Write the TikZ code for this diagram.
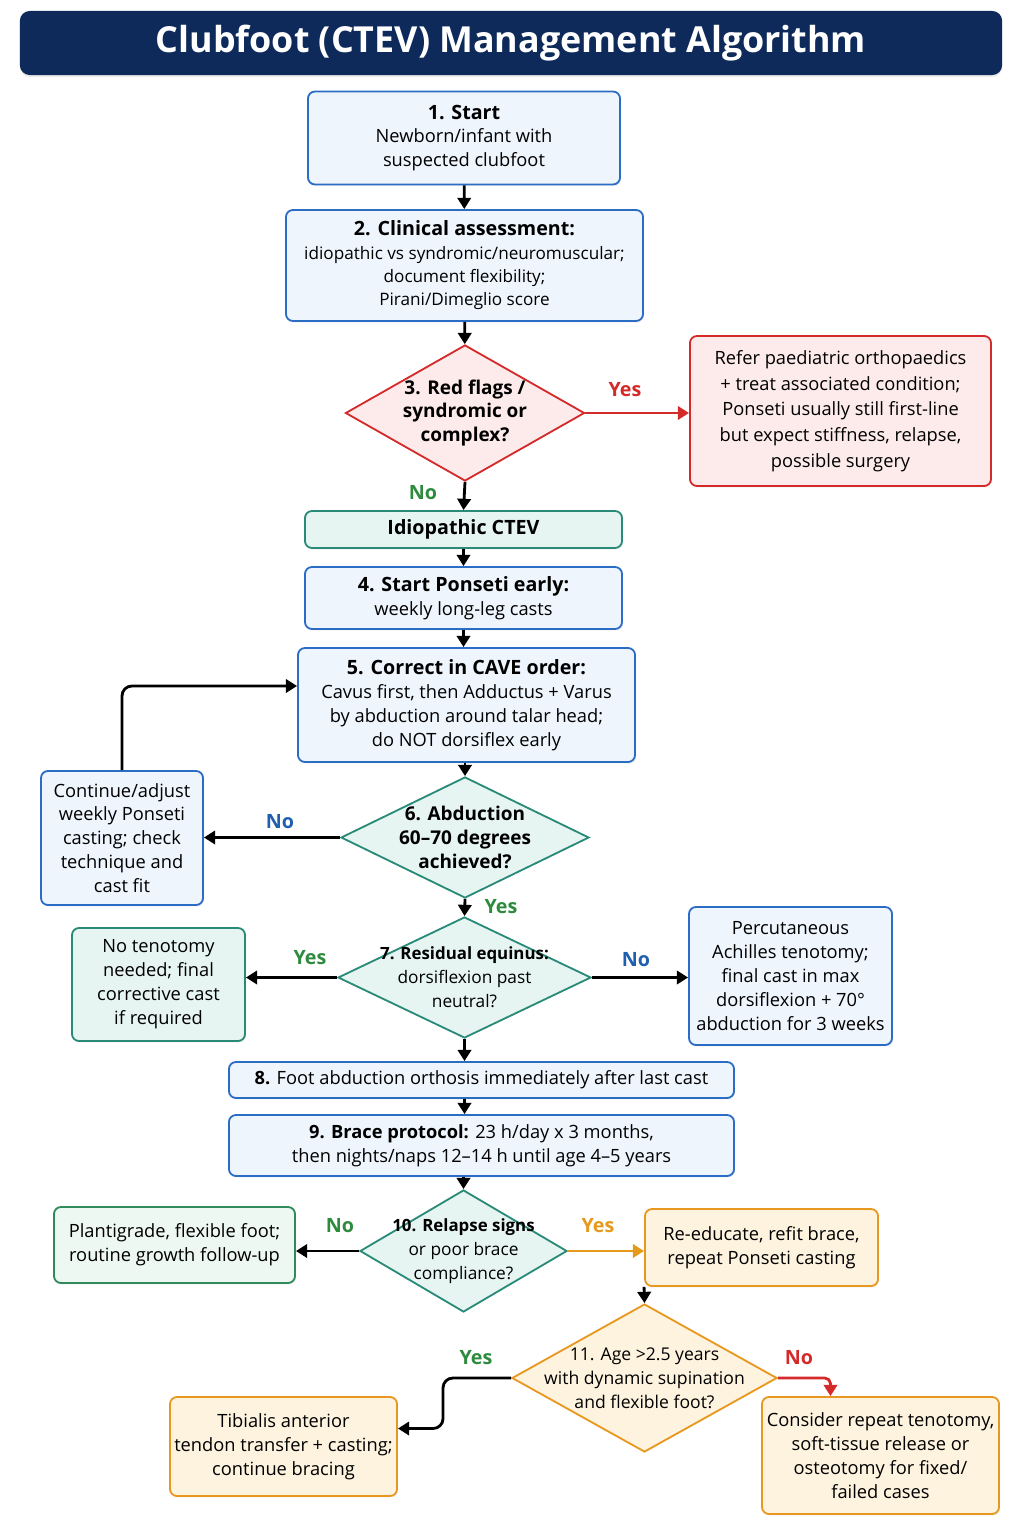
\documentclass[tikz,border=0pt]{standalone}
\usepackage{fontspec}
\setmainfont{Open Sans}
\usetikzlibrary{arrows.meta,shapes.geometric,shadows}

\definecolor{navy}{HTML}{0E2A5A}
\definecolor{blueline}{HTML}{2B6CC4}
\definecolor{bluefill}{HTML}{EEF5FD}
\definecolor{redline}{HTML}{D42A2A}
\definecolor{redfill}{HTML}{FDEBEC}
\definecolor{tealline}{HTML}{2A8A78}
\definecolor{tealfill}{HTML}{E6F5F2}
\definecolor{greenline}{HTML}{2F8A5C}
\definecolor{greenfill}{HTML}{EEF8F3}
\definecolor{orangeline}{HTML}{E8981E}
\definecolor{orangefill}{HTML}{FEF3DF}
\definecolor{yesgreen}{HTML}{2E8B3E}
\definecolor{noblue}{HTML}{1F5FAE}
\definecolor{yesorange}{HTML}{E59A1C}

\newcommand{\hd}[1]{{\fontsize{14}{17}\selectfont\bfseries #1}}

\tikzset{
  box/.style={draw, rounded corners=5pt, line width=1.3pt, align=center, inner sep=2pt,
    drop shadow={opacity=0.10, shadow xshift=0.8pt, shadow yshift=-1.2pt}},
  bluebox/.style={box, draw=blueline, fill=bluefill},
  redbox/.style={box, draw=redline, fill=redfill},
  tealbox/.style={box, draw=tealline, fill=tealfill},
  greenbox/.style={box, draw=greenline, fill=greenfill},
  orangebox/.style={box, draw=orangeline, fill=orangefill},
  dia/.style={diamond, draw, line width=1.3pt, inner sep=0pt},
  diatext/.style={align=center},
  arr/.style={line width=2pt, -{Triangle[length=8pt,width=9.5pt]}},
  lbl/.style={font=\fontsize{14}{16}\selectfont\bfseries},
}

\begin{document}
\begin{tikzpicture}[x=0.025cm, y=-0.025cm, font=\fontsize{13}{17}\selectfont]
  \useasboundingbox (0,0) rectangle (1024,1536);

  % Title bar
  \node[fill=navy, rounded corners=7pt, minimum width=24.55cm, minimum height=1.6cm,
    text=white, font=\fontsize{25.5}{28}\selectfont\bfseries,
    drop shadow={opacity=0.15, shadow xshift=0pt, shadow yshift=-1.5pt}] (title) at (511,43)
    {Clubfoot (CTEV) Management Algorithm};

  % Main column
  \node[bluebox, minimum width=7.8cm, minimum height=2.325cm] (start) at (464,138)
    {\hd{1. Start}\\ Newborn/infant with\\ suspected clubfoot};
  \node[bluebox, minimum width=8.925cm, minimum height=2.775cm, font=\fontsize{12.2}{16.6}\selectfont] (assess) at (464.5,265.5)
    {\hd{2. Clinical assessment:}\\ idiopathic vs syndromic/neuromuscular;\\ document flexibility;\\ Pirani/Dimeglio score};

  \node[dia, draw=redline, fill=redfill, minimum width=5.975cm, minimum height=3.4cm] (flags) at (465,413) {};
  \node[diatext, font=\fontsize{13.5}{17}\selectfont\bfseries] (flagst) at (flags)
    {3. Red flags /\\ syndromic or\\ complex?};
  \node[redbox, minimum width=7.525cm, minimum height=3.75cm, font=\fontsize{13}{18.3}\selectfont] (refer) at (840.5,411)
    {Refer paediatric orthopaedics\\ + treat associated condition;\\ Ponseti usually still first-line\\ but expect stiffness, relapse,\\ possible surgery};

  \node[tealbox, minimum width=7.925cm, minimum height=0.925cm] (idio) at (463.5,529.5)
    {\hd{Idiopathic CTEV}};
  \node[bluebox, minimum width=7.925cm, minimum height=1.55cm] (ponseti) at (463.5,598)
    {\hd{4. Start Ponseti early:}\\ weekly long-leg casts};
  \node[bluebox, minimum width=8.425cm, minimum height=2.85cm] (cave) at (466.5,705)
    {\hd{5. Correct in CAVE order:}\\ Cavus first, then Adductus + Varus\\ by abduction around talar head;\\ do NOT dorsiflex early};

  \node[dia, draw=tealline, fill=tealfill, minimum width=6.2cm, minimum height=3.025cm] (abd) at (465,837.5) {};
  \node[diatext, font=\fontsize{13.5}{17}\selectfont\bfseries] (abdt) at (abd)
    {6. Abduction\\ 60--70 degrees\\ achieved?};
  \node[bluebox, minimum width=4.05cm, minimum height=3.35cm] (adjust) at (122,838)
    {Continue/adjust\\ weekly Ponseti\\ casting; check\\ technique and\\ cast fit};

  \node[dia, draw=tealline, fill=tealfill, minimum width=6.325cm, minimum height=3.025cm] (equinus) at (464.5,977.5) {};
  \node[diatext, font=\fontsize{12.3}{17}\selectfont] (equinust) at (equinus)
    {{\fontsize{12}{17}\selectfont\bfseries 7. Residual equinus:}\\ dorsiflexion past\\ neutral?};
  \node[tealbox, minimum width=4.325cm, minimum height=2.825cm] (notenot) at (158.5,984.5)
    {No tenotomy\\ needed; final\\ corrective cast\\ if required};
  \node[bluebox, minimum width=5.075cm, minimum height=3.45cm] (tenot) at (790.5,976)
    {Percutaneous\\ Achilles tenotomy;\\ final cast in max\\ dorsiflexion + 70°\\ abduction for 3 weeks};

  \node[bluebox, minimum width=12.625cm, minimum height=0.9cm] (orthosis) at (481.5,1080)
    {{\bfseries 8.} Foot abduction orthosis immediately after last cast};
  \node[bluebox, minimum width=12.625cm, minimum height=1.525cm] (brace) at (481.5,1145.5)
    {{\bfseries 9. Brace protocol:} 23 h/day x 3 months,\\ then nights/naps 12--14 h until age 4--5 years};

  \node[dia, draw=tealline, fill=tealfill, minimum width=5.175cm, minimum height=3.05cm] (relapse) at (463.5,1251) {};
  \node[diatext, font=\fontsize{12.3}{17}\selectfont] (relapset) at (relapse)
    {{\fontsize{12}{17}\selectfont\bfseries 10. Relapse signs}\\ or poor brace\\ compliance?};
  \node[greenbox, minimum width=6.025cm, minimum height=1.9cm] (plant) at (174.5,1245)
    {Plantigrade, flexible foot;\\ routine growth follow-up};
  \node[orangebox, minimum width=5.825cm, minimum height=1.925cm] (reedu) at (761.5,1247.5)
    {Re-educate, refit brace,\\ repeat Ponseti casting};

  \node[dia, draw=orangeline, fill=orangefill, minimum width=6.625cm, minimum height=3.7cm] (age) at (644.5,1378) {};
  \node[diatext, font=\fontsize{12.5}{17}\selectfont] (aget) at (age)
    {11. Age >2.5 years\\ with dynamic supination\\ and flexible foot?};
  \node[orangebox, minimum width=5.675cm, minimum height=2.475cm] (tibialis) at (283.5,1446.5)
    {Tibialis anterior\\ tendon transfer + casting;\\ continue bracing};
  \node[orangebox, minimum width=5.925cm, minimum height=2.925cm] (surgery) at (880.5,1455.5)
    {Consider repeat tenotomy,\\ soft-tissue release or\\ osteotomy for fixed/\\ failed cases};

  % Bend points
  \coordinate (ageyes) at (443,1378);

  % Connectors
  \draw[arr] (start) -- (assess);
  \draw[arr] (assess) -- (flags);
  \draw[arr, draw=redline] (flags.east) -- (refer.west |- flags.east);
  \draw[arr] (flags.south) -- (idio.north);
  \draw[arr] (idio) -- (ponseti);
  \draw[arr] (ponseti.south) -- (ponseti.south |- cave.north);
  \draw[arr] (cave.south -| abd.north) -- (abd.north);
  \draw[arr] (abd.west) -- (adjust.east |- abd.west);
  \draw[arr, rounded corners=7pt] (adjust.north) |- ([yshift=0.475cm]cave.west);
  \draw[arr] (abd.south) -- (equinus.north);
  \draw[arr] (equinus.west) -- (notenot.east |- equinus.west);
  \draw[arr] (equinus.east) -- (tenot.west |- equinus.east);
  \draw[arr] (equinus.south) -- (equinus.south |- orthosis.north);
  \draw[arr] (orthosis.south -| equinus.south) -- (brace.north -| equinus.south);
  \draw[arr] (brace.south -| relapse.north) -- (relapse.north);
  \draw[arr] (relapse.west) -- (plant.east |- relapse.west);
  \draw[arr, draw=yesorange] (relapse.east) -- (reedu.west |- relapse.east);
  \draw[arr] (reedu.south west) -- (age.north);
  \draw[arr, rounded corners=7pt] (age.west) -- (ageyes) |- ([yshift=0.45cm]tibialis.east);
  \draw[arr, draw=redline, rounded corners=4pt] (age.east) -| ([xshift=-1.25cm]surgery.north);

  % Yes / No labels
  \node[lbl, text=redline] (flagsyes) at (625,390) {Yes};
  \node[lbl, text=yesgreen] (flagsno) at (423,493) {No};
  \node[lbl, text=noblue] (abdno) at (280,822) {No};
  \node[lbl, text=yesgreen] (abdyes) at (501,907) {Yes};
  \node[lbl, text=yesgreen] (equinusyes) at (310,958) {Yes};
  \node[lbl, text=noblue] (equinusno) at (636,960) {No};
  \node[lbl, text=yesgreen] (relapseno) at (340,1226) {No};
  \node[lbl, text=yesorange] (relapseyes) at (598,1226) {Yes};
  \node[lbl, text=yesgreen] (ageyeslbl) at (476,1358) {Yes};
  \node[lbl, text=redline] (agenolbl) at (799,1358) {No};

\end{tikzpicture}
\end{document}
